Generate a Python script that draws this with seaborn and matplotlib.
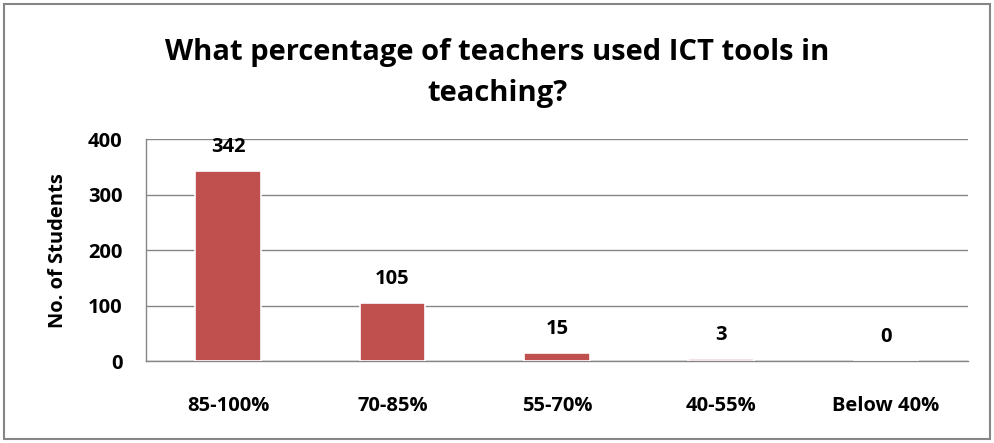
import matplotlib
matplotlib.use("Agg")
import matplotlib.pyplot as plt
import seaborn as sns
import pandas as pd
from matplotlib.patches import Rectangle

categories = ["85-100%", "70-85%", "55-70%", "40-55%", "Below 40%"]
students = [342, 105, 15, 3, 0]
yticks = [0, 100, 200, 300, 400]

sns.set_theme(style="white")
plt.rcParams['font.family'] = ['Open Sans', 'DejaVu Sans']
plt.rcParams['text.color'] = 'black'

df = pd.DataFrame({"cat": categories, "val": students})

fig = plt.figure(figsize=(9.95, 4.43), dpi=100)
ax = fig.add_axes([0.1467, 0.185, 0.826, 0.501])
sns.barplot(data=df, x="cat", y="val", color="#C0504D", saturation=1,
            width=0.4, edgecolor="white", linewidth=1.2, ax=ax, zorder=3)

ax.set_ylim(0, 400)
ax.set_yticks(yticks)
ax.set_xlim(-0.5, 4.5)
ax.yaxis.grid(True, color="#868686", linewidth=1, zorder=0)
ax.set_axisbelow(True)
for s in ["top", "right"]:
    ax.spines[s].set_visible(False)
for s in ["left", "bottom"]:
    ax.spines[s].set_color("#868686")
    ax.spines[s].set_linewidth(1)
ax.tick_params(axis="both", length=0, labelsize=14.5, colors="black")
ax.tick_params(axis="y", pad=17)
ax.tick_params(axis="x", pad=25)
for lab in ax.get_xticklabels() + ax.get_yticklabels():
    lab.set_fontweight("bold")
ax.set_xlabel("")
ax.set_ylabel("No. of Students", fontsize=14.5, fontweight="bold", labelpad=14, color="black")

for i, v in enumerate(students):
    ax.annotate(str(v), (i, v), xytext=(0, 10), textcoords="offset points",
                ha="center", va="bottom", fontsize=14.5, fontweight="bold", color="black")

fig.text(0.5, 0.836, "What percentage of teachers used ICT tools in\nteaching?",
         ha="center", va="center", fontsize=21, fontweight="bold", linespacing=1.55,
         color="black")

fig.patches.append(Rectangle((0.004, 0.01), 0.991, 0.98, transform=fig.transFigure,
                             fill=False, edgecolor="#868686", linewidth=1.5))

fig.savefig("out.png", dpi=100)
